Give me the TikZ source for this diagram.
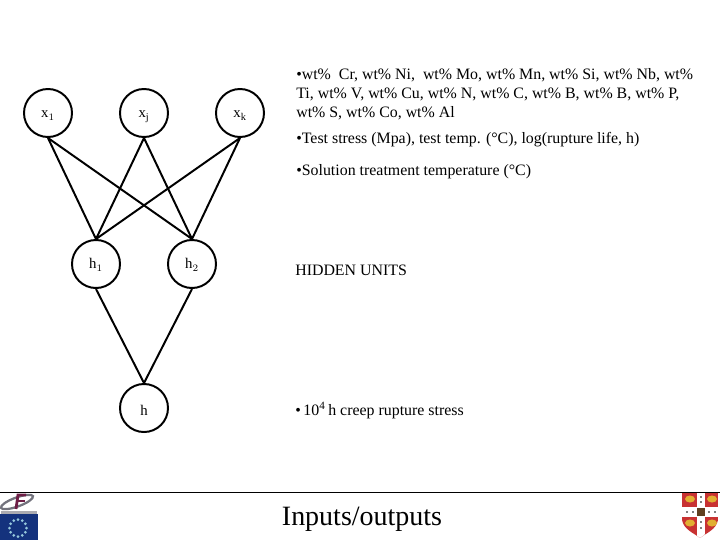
\documentclass[tikz,border=0pt]{standalone}
\usepackage{fontspec}
\setmainfont{Liberation Serif}
\usepackage{xcolor}
\usetikzlibrary{positioning}
\definecolor{eublue}{RGB}{20,50,125}
\definecolor{eustar}{RGB}{150,200,220}
\definecolor{crest}{RGB}{200,50,50}
\definecolor{lion}{RGB}{225,175,50}
\definecolor{swoosh}{RGB}{115,115,125}
\definecolor{maroon}{RGB}{110,30,70}

\begin{document}
\begin{tikzpicture}[
    x=0.025cm, y=-0.025cm,
    unit/.style={circle, draw, line width=1.4pt, minimum size=1.2cm, inner sep=0pt, text height=7.1pt, text depth=0pt, font=\fontsize{10.5}{12}\selectfont},
    link/.style={line width=1.4pt},
    txt/.style={anchor=north west, align=left, inner sep=0pt, font=\fontsize{11.3}{13.6}\selectfont}
]
\useasboundingbox (0,0) rectangle (720,540);

\node[unit] (x1) at (48,113)  {x$_{\scriptstyle 1}$};
\node[unit] (xj) at (144,113) {x$_{\scriptstyle\mathrm{j}}$};
\node[unit] (xk) at (240,113) {x$_{\scriptstyle\mathrm{k}}$};
\node[unit] (h1) at (96,264)  {h$_{\scriptstyle 1}$};
\node[unit] (h2) at (192,264) {h$_{\scriptstyle 2}$};
\node[unit, text height=10pt] (h)  at (144,408) {h};

\foreach \a in {x1,xj,xk} {
    \draw[link] (\a.south) -- (h1.north);
    \draw[link] (\a.south) -- (h2.north);
}
\draw[link] (h1.south) -- (h.north);
\draw[link] (h2.south) -- (h.north);

\node[txt] (inputs) at (296,68) {•wt\%\ \ Cr, wt\% Ni,\ \ wt\% Mo, wt\% Mn, wt\% Si, wt\% Nb, wt\%\\
    Ti, wt\% V, wt\% Cu, wt\% N, wt\% C, wt\% B, wt\% B, wt\% P,\\
    wt\% S, wt\% Co, wt\% Al};
\node[txt] (stress) at (296,132) {•Test stress (Mpa), test temp. (°C), log(rupture life, h)};
\node[txt] (solution) at (296,164) {•Solution treatment temperature (°C)};
\node[txt] (hidden) at (295,265) {HIDDEN UNITS};
\node[txt] (output) at (295,402) {•\,10\textsuperscript{4}\,h creep rupture stress};
\node[anchor=base, inner sep=0pt, font=\fontsize{19.9}{22}\selectfont] (title) at (362,525) {Inputs/outputs};

\coordinate (ruleL) at (0,492);
\coordinate (ruleR) at (720,492);
\draw[line width=0.7pt] (ruleL) -- (ruleR);

% left logo
\fill[eublue] (0,514) rectangle (38,540);
\foreach \i in {0,30,...,330}
    \fill[eustar] (18,528) ++(\i:8.5) circle (1.5);
\draw[swoosh, line width=1.6pt, rotate around={20:(17,502)}] (17,502) ellipse (17 and 4.5);
\draw[maroon, line width=2pt] (26,495) -- (18,495) -- (16,509);
\draw[maroon, line width=1.6pt] (17,501) -- (25,501);
\fill[swoosh!60] (1,511) rectangle (37,514);

% right crest
\begin{scope}
\clip (682,493) -- (718,493) -- (718,520) .. controls (716,530) and (706,533) .. (700,538) .. controls (694,533) and (684,530) .. (682,520) -- cycle;
\fill[crest] (682,493) rectangle (718,538);
\fill[white] (697,493) rectangle (705,538);
\fill[white] (682,507) rectangle (718,517);
\fill[black!50!brown] (697,508) rectangle (705,516);
\foreach \p in {690,712} {
    \fill[lion] (\p,499) ellipse (5 and 3.5);
    \fill[lion] (\p,523) ellipse (5 and 3.5);
    \fill[black] (\p-3,512) circle (0.8);
    \fill[black] (\p+3,512) circle (0.8);
}
\foreach \q in {497,502,522,528}
    \fill[black] (701,\q) circle (0.8);
\end{scope}
\end{tikzpicture}
\end{document}
